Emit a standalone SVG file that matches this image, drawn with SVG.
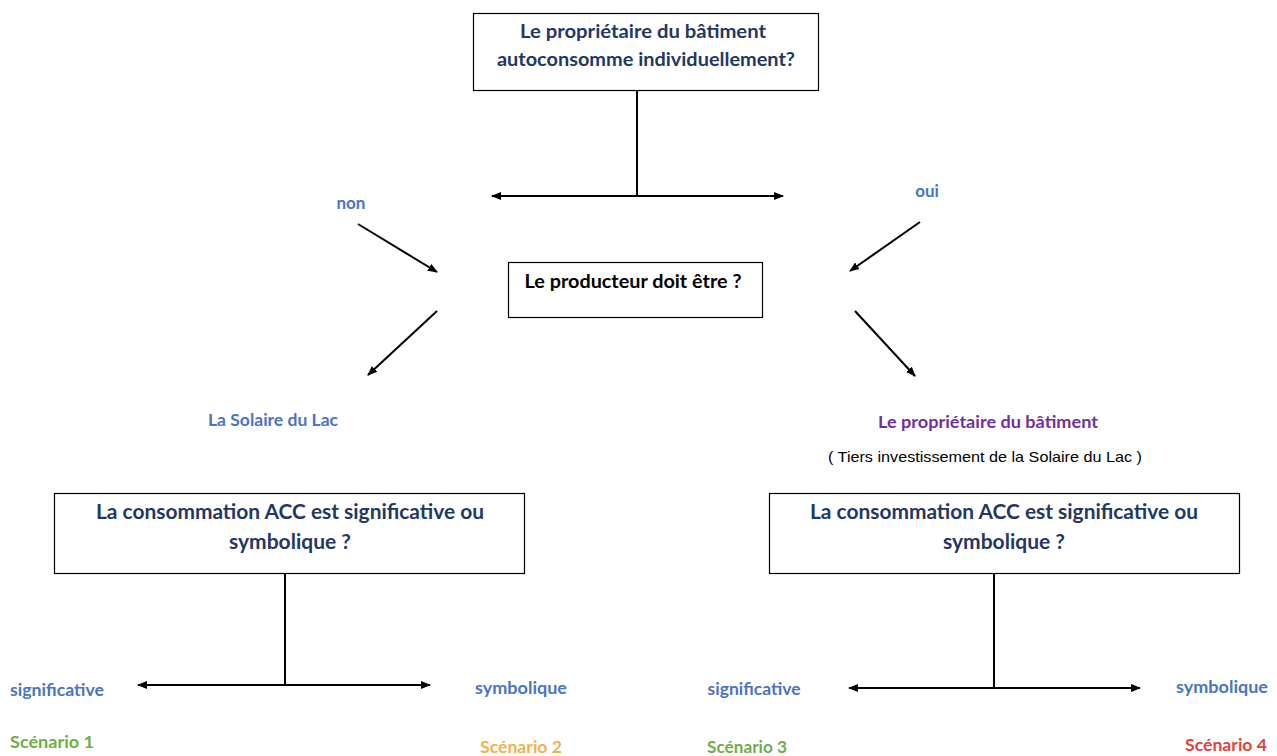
<svg xmlns="http://www.w3.org/2000/svg" width="1277" height="756" viewBox="0 0 1277 756">
<defs>
<marker id="ah" viewBox="0 0 10 10" refX="9" refY="5" markerWidth="5" markerHeight="5" orient="auto-start-reverse" markerUnits="strokeWidth">
<path d="M0,1 L10,5 L0,9 z" fill="#000"/>
</marker>
<style>
.box{fill:#fff;stroke:#000;stroke-width:1.2}
.t{font-family:Lato,"Open Sans",sans-serif;font-weight:bold;text-anchor:middle}
.navy{fill:#1f3864}
.blue{fill:#4a74c0}
.ln{stroke:#000;stroke-width:2;fill:none}
.arr{stroke:#000;stroke-width:2;fill:none;marker-end:url(#ah)}
.arr2{stroke:#000;stroke-width:2;fill:none;marker-end:url(#ah);marker-start:url(#ah)}
</style>
</defs>
<rect width="1277" height="756" fill="#fff"/>
<g id="connectors">
<line class="ln" x1="637" y1="90" x2="637" y2="196"/>
<line class="arr2" x1="492" y1="196" x2="783" y2="196"/>
<line class="arr" x1="358" y1="224" x2="437" y2="272"/>
<line class="arr" x1="920" y1="222" x2="850" y2="271"/>
<line class="arr" x1="437" y1="311" x2="368" y2="375"/>
<line class="arr" x1="855" y1="311" x2="915" y2="376"/>
<line class="ln" x1="285" y1="573" x2="285" y2="685"/>
<line class="arr2" x1="138" y1="685" x2="430" y2="685"/>
<line class="ln" x1="994" y1="573" x2="994" y2="688"/>
<line class="arr2" x1="849" y1="688" x2="1140" y2="688"/>
</g>
<g id="q1">
<rect class="box" x="473.5" y="13.5" width="345" height="77"/>
<text class="t navy" x="643" y="38" font-size="19.5" textLength="246" lengthAdjust="spacingAndGlyphs">Le propriétaire du bâtiment</text>
<text class="t navy" x="646" y="66" font-size="19.5" textLength="298" lengthAdjust="spacingAndGlyphs">autoconsomme individuellement?</text>
</g>
<g id="lbl-non"><text class="t blue" x="351" y="209" font-size="17">non</text></g>
<g id="lbl-oui"><text class="t blue" x="927" y="197" font-size="17">oui</text></g>
<g id="q2">
<rect class="box" x="508.5" y="262.5" width="254" height="55"/>
<text class="t" x="633" y="288" font-size="19.5" fill="#000" textLength="217" lengthAdjust="spacingAndGlyphs">Le producteur doit être ?</text>
</g>
<g id="prod-lac"><text class="t blue" x="273" y="426" font-size="17.5" textLength="130" lengthAdjust="spacingAndGlyphs">La Solaire du Lac</text></g>
<g id="prod-prop">
<text class="t" x="988" y="428" font-size="17.5" fill="#7030a0" textLength="220" lengthAdjust="spacingAndGlyphs">Le propriétaire du bâtiment</text>
<text x="985" y="462" font-size="15" fill="#000" font-family="Liberation Sans,Arial,sans-serif" text-anchor="middle" textLength="314" lengthAdjust="spacingAndGlyphs">( Tiers investissement de la Solaire du Lac )</text>
</g>
<g id="q3">
<rect class="box" x="54.5" y="493.5" width="470" height="80"/>
<text class="t navy" x="290" y="519" font-size="21" textLength="388" lengthAdjust="spacingAndGlyphs">La consommation ACC est significative ou</text>
<text class="t navy" x="290" y="549" font-size="21">symbolique ?</text>
</g>
<g id="q4">
<rect class="box" x="769.5" y="493.5" width="470" height="80"/>
<text class="t navy" x="1004" y="519" font-size="21" textLength="388" lengthAdjust="spacingAndGlyphs">La consommation ACC est significative ou</text>
<text class="t navy" x="1004" y="549" font-size="21">symbolique ?</text>
</g>
<g id="l-sig1"><text class="t blue" x="57" y="696" font-size="17.5" textLength="94" lengthAdjust="spacingAndGlyphs">significative</text></g>
<g id="l-sym1"><text class="t blue" x="521" y="694" font-size="17.5" textLength="92" lengthAdjust="spacingAndGlyphs">symbolique</text></g>
<g id="s1"><text class="t" x="52" y="748" font-size="17.5" fill="#70ad47" textLength="84" lengthAdjust="spacingAndGlyphs">Scénario 1</text></g>
<g id="s2"><text class="t" x="521" y="753" font-size="17.5" fill="#f2b24a" textLength="82" lengthAdjust="spacingAndGlyphs">Scénario 2</text></g>
<g id="l-sig2"><text class="t blue" x="754" y="695" font-size="17.5" textLength="93" lengthAdjust="spacingAndGlyphs">significative</text></g>
<g id="l-sym2"><text class="t blue" x="1222" y="693" font-size="17.5" textLength="92" lengthAdjust="spacingAndGlyphs">symbolique</text></g>
<g id="s3"><text class="t" x="747" y="753" font-size="17.5" fill="#70ad47" textLength="80" lengthAdjust="spacingAndGlyphs">Scénario 3</text></g>
<g id="s4"><text class="t" x="1226" y="751" font-size="17.5" fill="#e0443a" textLength="82" lengthAdjust="spacingAndGlyphs">Scénario 4</text></g>
</svg>
